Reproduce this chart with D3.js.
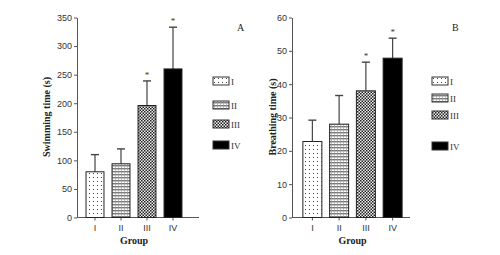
<!DOCTYPE html>
<html>
<head>
<meta charset="utf-8">
<style>
    body { margin: 0; background: #fff; }
    svg { display: block; font-family: 'Liberation Serif', 'DejaVu Serif', serif; }
    .axis .domain, .axis .tick line { stroke: #555; }
    .axis .tick text { font-size: 9px; fill: #333; }
    .axis-title { font-size: 10px; font-weight: bold; fill: #222; }
    .legend-label { font-size: 9px; fill: #333; }
    .panel-label { font-size: 10px; fill: #222; }
</style>
</head>
<body>
<svg width="500" height="255"></svg>
<script src="https://d3js.org/d3.v7.min.js"></script>
<script>
    // data
    let groups = ["I", "II", "III", "IV"]
    let swimMean = [80, 94, 196, 260]
    let swimErr = [30, 26, 43, 73]
    let breathMean = [22.8, 28, 38, 47.8]
    let breathErr = [6.4, 8.6, 8.6, 6]
    let significant = [false, false, true, true]
    let swimTicks = [0, 50, 100, 150, 200, 250, 300, 350]
    let breathTicks = [0, 10, 20, 30, 40, 50, 60]

    let svg = d3.select("svg")

    // fill patterns, one per group
    let defs = svg.append("defs")

    let pDots = defs.append("pattern").attr("id", "pat-I")
        .attr("patternUnits", "userSpaceOnUse").attr("width", 4).attr("height", 4)
    pDots.append("rect").attr("width", 4).attr("height", 4).attr("fill", "#fff")
    pDots.append("rect").attr("x", 1).attr("y", 1).attr("width", 1).attr("height", 1).attr("fill", "#444")

    let pLines = defs.append("pattern").attr("id", "pat-II")
        .attr("patternUnits", "userSpaceOnUse").attr("width", 3).attr("height", 3)
    pLines.append("rect").attr("width", 3).attr("height", 3).attr("fill", "#fff")
    pLines.append("rect").attr("y", 0).attr("width", 3).attr("height", 1.4).attr("fill", "#777")
    pLines.append("rect").attr("x", 1).attr("width", 0.6).attr("height", 3).attr("fill", "#999")

    let pCheck = defs.append("pattern").attr("id", "pat-III")
        .attr("patternUnits", "userSpaceOnUse").attr("width", 3).attr("height", 3)
    pCheck.append("rect").attr("width", 3).attr("height", 3).attr("fill", "#eee")
    pCheck.append("rect").attr("width", 1.5).attr("height", 1.5).attr("fill", "#222")
    pCheck.append("rect").attr("x", 1.5).attr("y", 1.5).attr("width", 1.5).attr("height", 1.5).attr("fill", "#222")

    let fills = {
        "I": "url(#pat-I)",
        "II": "url(#pat-II)",
        "III": "url(#pat-III)",
        "IV": "#000"
    }

    function drawPanel(opt) {
        let g = svg.append("g")

        let x = d3.scaleBand()
            .domain(groups)
            .range(opt.xRange)
            .paddingInner(opt.pad)
            .paddingOuter(opt.pad / 2)

        let y = d3.scaleLinear()
            .domain(opt.yDomain)
            .range([217.5, 17.5])

        // axes
        g.append("g")
            .attr("class", "axis")
            .attr("transform", `translate(${opt.axisX},0)`)
            .call(d3.axisLeft(y).tickValues(opt.ticks).tickSize(3).tickPadding(2).tickSizeOuter(0))

        g.append("g")
            .attr("class", "axis")
            .attr("transform", "translate(0,217.5)")
            .call(d3.axisBottom(x).tickSize(3).tickPadding(4))
            .call(a => a.select(".domain").attr("d", `M${opt.axisX},0H${opt.axisEnd}`))

        // error bars (upward only)
        let bars = groups.map((k, i) => ({ key: k, mean: opt.mean[i], err: opt.err[i], sig: significant[i] }))

        g.selectAll(".err")
            .data(bars)
            .join("line")
            .attr("x1", d => x(d.key) + x.bandwidth() / 2)
            .attr("x2", d => x(d.key) + x.bandwidth() / 2)
            .attr("y1", d => y(d.mean))
            .attr("y2", d => y(d.mean + d.err))
            .attr("stroke", "#444")
            .attr("stroke-width", 1.2)

        g.selectAll(".cap")
            .data(bars)
            .join("line")
            .attr("x1", d => x(d.key) + x.bandwidth() / 2 - 4)
            .attr("x2", d => x(d.key) + x.bandwidth() / 2 + 4)
            .attr("y1", d => y(d.mean + d.err))
            .attr("y2", d => y(d.mean + d.err))
            .attr("stroke", "#444")
            .attr("stroke-width", 1.4)

        // bars
        g.selectAll(".bar")
            .data(bars)
            .join("rect")
            .attr("x", d => x(d.key))
            .attr("y", d => y(d.mean))
            .attr("width", x.bandwidth())
            .attr("height", d => y(0) - y(d.mean))
            .attr("fill", d => fills[d.key])
            .attr("stroke", "#222")
            .attr("stroke-width", 1)

        // significance stars
        g.selectAll(".star")
            .data(bars.filter(d => d.sig))
            .join("text")
            .attr("x", d => x(d.key) + x.bandwidth() / 2)
            .attr("y", d => y(d.mean + d.err) - 3)
            .attr("text-anchor", "middle")
            .attr("font-size", 9)
            .attr("fill", "#333")
            .text("*")

        // titles
        g.append("text")
            .attr("class", "axis-title")
            .attr("transform", `translate(${opt.titleX},117) rotate(-90)`)
            .attr("text-anchor", "middle")
            .text(opt.title)

        g.append("text")
            .attr("class", "axis-title")
            .attr("x", (opt.xRange[0] + opt.xRange[1]) / 2)
            .attr("y", 244)
            .attr("text-anchor", "middle")
            .text("Group")

        g.append("text")
            .attr("class", "panel-label")
            .attr("x", opt.labelX)
            .attr("y", 31)
            .text(opt.label)

        // legend
        let leg = g.selectAll(".leg")
            .data(groups)
            .join("g")
            .attr("transform", (d, i) => `translate(${opt.legX},${opt.legY[i]})`)
        leg.append("rect")
            .attr("x", 0).attr("y", -4)
            .attr("width", 16).attr("height", 8)
            .attr("fill", d => fills[d])
            .attr("stroke", "#333")
            .attr("stroke-width", 1)
        leg.append("text")
            .attr("class", "legend-label")
            .attr("x", 18)
            .attr("y", 3.5)
            .text(d => d)
    }

    drawPanel({
        mean: swimMean, err: swimErr, ticks: swimTicks, yDomain: [0, 350],
        axisX: 77, axisEnd: 199, xRange: [82, 186], pad: 0.31,
        title: "Swimming time (s)", titleX: 50, label: "A", labelX: 237,
        legX: 213, legY: [81, 105, 124, 145]
    })

    drawPanel({
        mean: breathMean, err: breathErr, ticks: breathTicks, yDomain: [0, 60],
        axisX: 292, axisEnd: 410, xRange: [299, 406], pad: 0.29,
        title: "Breathing time (s)", titleX: 276, label: "B", labelX: 452,
        legX: 432, legY: [81, 98, 115, 146]
    })
</script>
</body>
</html>
